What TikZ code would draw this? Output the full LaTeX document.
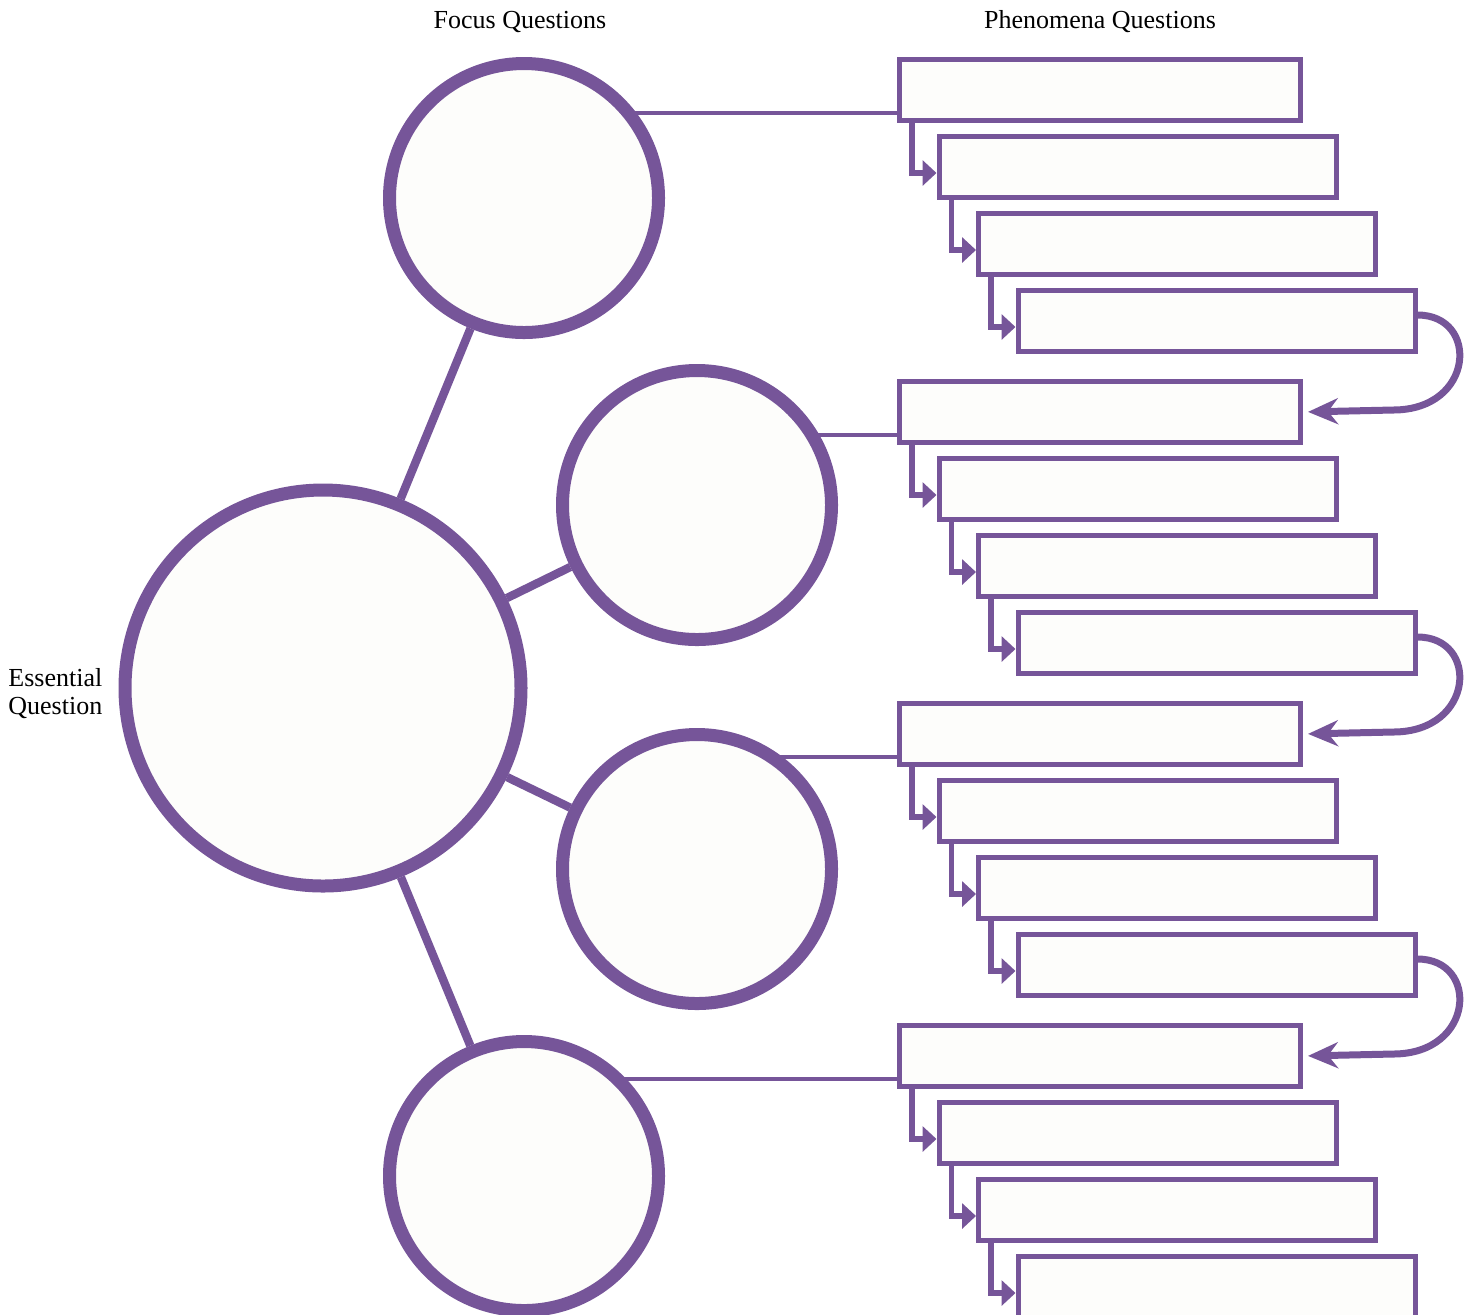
\documentclass[tikz,border=0pt]{standalone}
\usepackage{fontspec}
\setmainfont{Liberation Serif}
\usetikzlibrary{arrows.meta,backgrounds}
\definecolor{eqpurple}{RGB}{118,85,153}
\definecolor{paper}{RGB}{253,253,251}
\begin{document}
\begin{tikzpicture}[
                            x=0.5pt, y=-0.5pt,
                            focus/.style={circle, draw=eqpurple, fill=paper, line width=6.5pt, minimum size=134.5pt, inner sep=0pt},
                            essential/.style={focus, minimum size=198pt},
                            qbox/.style={rectangle, draw=eqpurple, fill=paper, line width=2.5pt, minimum width=200.5pt, minimum height=30.5pt, inner sep=0pt},
                            spoke/.style={draw=eqpurple, line width=4.2pt},
                            link/.style={draw=eqpurple, line width=2.3pt},
                            nextq/.style={draw=eqpurple, line width=2.8pt, -{Triangle[length=7pt,width=12.5pt]}},
                            backq/.style={draw=eqpurple, line width=3.5pt, -{Stealth[length=15pt,width=13pt,inset=5pt]}, shorten >=2.5pt},
                            heading/.style={font=\fontsize{13}{14}\selectfont, inner sep=0pt}
                        ]
                        \useasboundingbox (0,0) rectangle (1475,1314);
                        % Labels
                        \node [heading] (focuslabel) at (520,22) {Focus Questions};
                        \node [heading] (phenolabel) at (1100,22) {Phenomena Questions};
                        \node [heading, anchor=west, align=left] (eqlabel) at (8,694) {Essential\\Question};

                        % Circles
                        \node [essential] (eq) at (323,688) {};
                        \node [focus] (fq1) at (524,198) {};
                        \node [focus] (fq2) at (697,505) {};
                        \node [focus] (fq3) at (697,869) {};
                        \node [focus] (fq4) at (524,1176) {};

                        % Blocks
                        \foreach \g in {0,...,3}{
                            \node [qbox, anchor=west] (b\g0) at (897,{90+322*\g}) {};
                            \foreach \i in {1,2,3}
                                \node [qbox, minimum width=198.5pt, anchor=west] (b\g\i) at ({897+39.5*\i},{90+322*\g+77*\i}) {};
                            \foreach \i/\j in {0/1,1/2,2/3}
                                \draw [nextq] ([xshift=7.5pt]b\g\i.south west) |- ([yshift=-3pt]b\g\j.west);
                        }

                        % Connections
                        \draw [spoke] (eq) -- (fq1);
                        \draw [spoke] (eq) -- (fq2);
                        \draw [spoke] (eq) -- (fq3);
                        \draw [spoke] (eq) -- (fq4);
                        \begin{pgfonlayer}{background}
                            \foreach \g/\c in {0/fq1,1/fq2,2/fq3,3/fq4}{
                                \coordinate (l\g) at ([yshift=-11.5pt]b\g0.west);
                                \draw [link] (l\g) -- (l\g -| \c.center);
                            }
                        \end{pgfonlayer}
                        \foreach \g/\h in {0/1,1/2,2/3}
                            \draw [backq] ([yshift=3pt]b\g3.east) .. controls +(62,0) and +(82,0) .. ([xshift=45pt,yshift=1pt]b\h0.east) -- (b\h0.east);
                    \end{tikzpicture}
\end{document}
